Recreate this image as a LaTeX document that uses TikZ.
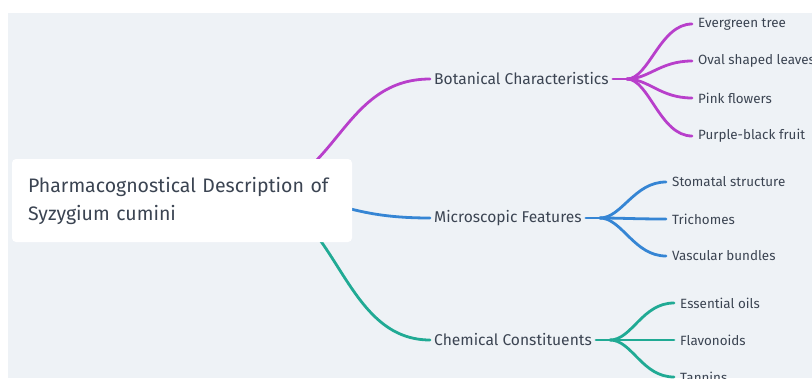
\documentclass[tikz,border=0pt]{standalone}
\usepackage{fontspec}
\setmainfont{Fira Sans}
\usetikzlibrary{positioning}
\definecolor{canvas}{HTML}{EEF2F6}
\definecolor{ink}{HTML}{3B4452}
\definecolor{botcol}{HTML}{B83FCB}
\definecolor{miccol}{HTML}{3585D4}
\definecolor{chemcol}{HTML}{20AA94}
\pgfdeclarelayer{canvas}
\pgfdeclarelayer{edges}
\pgfsetlayers{canvas,edges,main}
\tikzset{
  root/.style={
    fill = white,
    rounded corners = 4pt,
    text width = 308pt,
    minimum height = 83pt,
    inner xsep = 16pt,
    inner ysep = 0pt,
    align = left,
    text = ink,
    font = \fontsize{19.5}{28}\selectfont
  },
  branch/.style={
    anchor = west,
    inner xsep = 4pt,
    inner ysep = 2pt,
    text = ink,
    font = \fontsize{15.6}{18}\selectfont
  },
  leaf/.style={
    anchor = west,
    inner xsep = 6pt,
    inner ysep = 1pt,
    text = ink,
    font = \fontsize{13.4}{15}\selectfont
  },
  link/.style={
    line width = 2.8pt,
    line cap = round
  },
}

\begin{document}
\begin{tikzpicture}[x=1pt, y=-1pt]
        \useasboundingbox (0,0) rectangle (812,378);
        \begin{pgfonlayer}{canvas}
            \fill[canvas] (8,13) rectangle (812,378);
        \end{pgfonlayer}

        % root and its three branches
        \node[root] (root) at (182,200.5) {Pharmacognostical Description of\\Syzygium cumini};
        \coordinate (rootout) at (245,193);

        \node[branch] (bot) at (430,79) {Botanical Characteristics};
        \node[branch] (mic) at (430,218) {Microscopic Features};
        \node[branch] (chem) at (430,340) {Chemical Constituents};

        % leaves
        \node[leaf] (evergreen) at (692,24) {Evergreen tree};
        \node[leaf] (oval) at (692,61) {Oval shaped leaves};
        \node[leaf] (pink) at (692,98) {Pink flowers};
        \node[leaf] (fruit) at (692,136) {Purple-black fruit};

        \node[leaf] (stomata) at (666,182) {Stomatal structure};
        \node[leaf] (trich) at (666,219) {Trichomes};
        \node[leaf] (vasc) at (666,256) {Vascular bundles};

        \node[leaf] (oils) at (674,303) {Essential oils};
        \node[leaf] (flav) at (674,340) {Flavonoids};
        \node[leaf] (tann) at (674,377) {Tannins};

        \begin{pgfonlayer}{edges}
            \draw[link, botcol] (rootout) .. controls +(92,0) and +(-92,0) .. (bot.west);
            \draw[link, miccol] (rootout) .. controls +(92,0) and +(-92,0) .. (mic.west);
            \draw[link, chemcol] (rootout) .. controls +(92,0) and +(-92,0) .. (chem.west);

            \draw[link, botcol] (bot.east) -- ++(14,0) coordinate (bothub);
            \draw[link, miccol] (mic.east) -- ++(14,0) coordinate (michub);
            \draw[link, chemcol] (chem.east) -- ++(14,0) coordinate (chemhub);

            \foreach \l in {evergreen,oval,pink,fruit}
                \draw[link, botcol] (bothub) .. controls +(22,0) and +(-32,0) .. (\l.west);
            \foreach \l in {stomata,trich,vasc}
                \draw[link, miccol] (michub) .. controls +(22,0) and +(-32,0) .. (\l.west);
            \foreach \l in {oils,flav,tann}
                \draw[link, chemcol] (chemhub) .. controls +(22,0) and +(-32,0) .. (\l.west);
        \end{pgfonlayer}
\end{tikzpicture}
\end{document}
